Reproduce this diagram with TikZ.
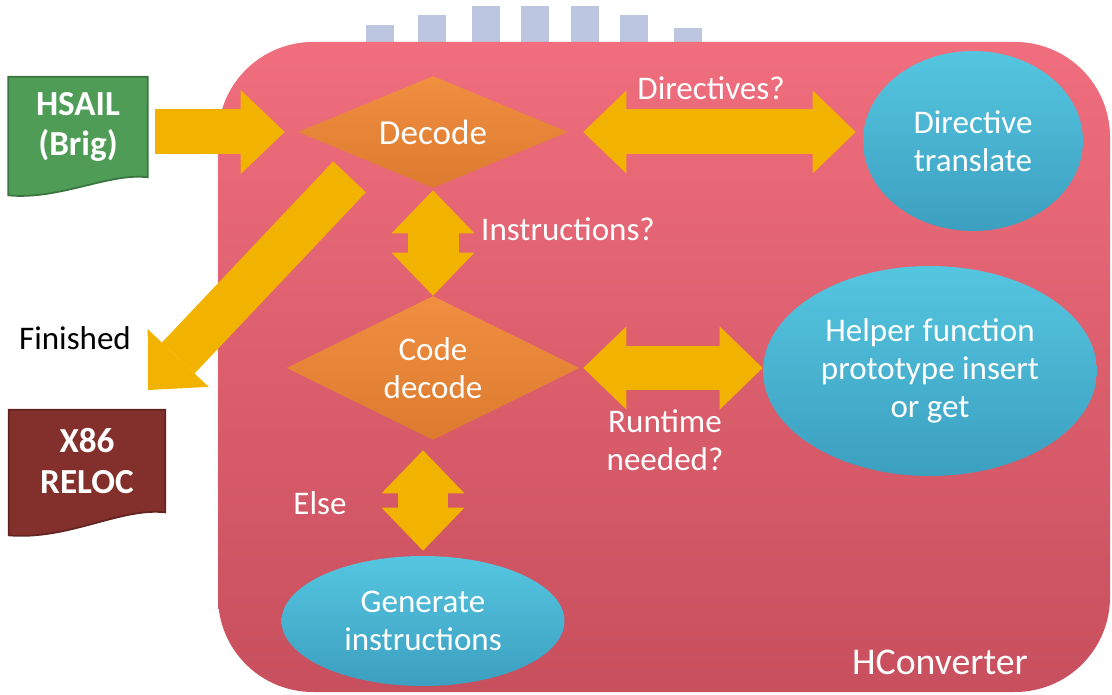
\documentclass[tikz,border=0pt]{standalone}
\usepackage{fontspec}
\setmainfont{Carlito}
\usetikzlibrary{shapes.geometric,arrows.meta}

\definecolor{boxtop}{HTML}{F06E7E}
\definecolor{boxbot}{HTML}{C84F5D}
\definecolor{orangetop}{HTML}{F08F40}
\definecolor{orangebot}{HTML}{DC7A2F}
\definecolor{tealtop}{HTML}{55C6E0}
\definecolor{tealbot}{HTML}{3C9FC0}
\definecolor{gold}{HTML}{F2B200}
\definecolor{leafgreen}{HTML}{4E9C56}
\definecolor{brick}{HTML}{83302C}
\definecolor{wmark}{HTML}{BCC6E0}

\pgfdeclarelayer{background}
\pgfsetlayers{background,main}

\tikzset{
  txt/.style={text=white, font=\fontsize{18.8}{21.5}\selectfont, align=center},
  decision/.style={txt, diamond, inner sep=0pt, top color=orangetop, bottom color=orangebot},
  task/.style={txt, ellipse, inner sep=0pt, top color=tealtop, bottom color=tealbot},
  doc/.style={txt, font=\fontsize{20}{23}\selectfont\bfseries, inner sep=0pt},
  fat/.style={draw=gold, line width=0.9cm},
  oneway/.style={fat, -{Triangle[length=0.88cm, width=1.68cm, line width=0pt]}},
  twoway/.style={fat, {Triangle[length=0.86cm, width=1.66cm, line width=0pt]}-{Triangle[length=0.86cm, width=1.66cm, line width=0pt]}},
}

\begin{document}
\begin{tikzpicture}[x=0.02cm, y=-0.02cm]
  \useasboundingbox (0,0) rectangle (1112,695);

  % input and output files
  \node[doc, minimum width=2.78cm, minimum height=2.0cm] (hsail) at (78,127) {HSAIL\\(Brig)};
  \node[doc, minimum width=3.12cm, minimum height=2.04cm] (reloc) at (87,461) {X86\\RELOC};
  \node[txt, text=black] (finished) at (75,338) {Finished};

  % converter steps
  \node[decision, font=\fontsize{20}{22}\selectfont, minimum width=5.4cm, minimum height=2.24cm, aspect=2.4] (decode) at (433,132) {Decode};
  \node[decision, minimum width=5.86cm, minimum height=2.88cm, aspect=2.03] (codedec) at (433,368) {Code\\decode};
  \node[task, minimum width=4.4cm, minimum height=3.6cm] (dirtr) at (973,141) {Directive\\translate};
  \node[task, minimum width=6.68cm, minimum height=4.2cm] (helper) at (930,371) {Helper function\\prototype insert\\or get};
  \node[task, minimum width=5.66cm, minimum height=2.6cm] (geninst) at (423,621) {Generate\\instructions};

  % labels
  \node[txt] (dirq) at (711,88) {Directives?};
  \node[txt] (instq) at (568,229) {Instructions?};
  \node[txt] (rtq) at (665,440) {Runtime\\needed?};
  \node[txt] (elseq) at (320,503) {Else};
  \node[txt, font=\fontsize{21.5}{24}\selectfont] (hconv) at (940,662) {HConverter};

  \begin{pgfonlayer}{background}
    % faint bars over the top edge
    \foreach \x/\t in {380/25, 432/15, 486/6, 535/6, 585/6, 634/15, 688/28}
      \fill[wmark] (\x-14,\t) rectangle (\x+14,60);
    % the converter box
    \shade[top color=boxtop, bottom color=boxbot, rounded corners=1.9cm] (218,42) rectangle (1110,692);
    % document shapes with wavy bottoms
    \filldraw[fill=leafgreen, draw=leafgreen!75!black, line width=1pt] (hsail.north west) -- (hsail.north east) -- (hsail.south east)
      .. controls +(-38,-5) and +(51,5) .. ([yshift=-0.36cm]hsail.south west) -- cycle;
    \filldraw[fill=brick, draw=brick!75!black, line width=1pt] (reloc.north west) -- (reloc.north east) -- (reloc.south east)
      .. controls +(-45,-5) and +(60,5) .. ([yshift=-0.46cm]reloc.south west) -- cycle;
  \end{pgfonlayer}

  % block arrows
  \coordinate (done) at (148,390);
  \draw[oneway, shorten <=0.14cm, shorten >=0.26cm] (hsail.east |- decode.west) -- (decode.west);
  \draw[oneway, shorten <=0.46cm] (decode.south west) -- (done);
  \draw[twoway, shorten <=0.3cm, shorten >=0.14cm] (decode.east) -- (decode.east -| dirtr.west);
  \draw[twoway, line width=1.02cm, shorten <=0.04cm] (decode.south) -- (codedec.north);
  \draw[twoway, shorten <=0.07cm] (codedec.east) -- (codedec.east -| helper.west);
  \draw[twoway, line width=1.0cm, shorten <=0.2cm, shorten >=0.1cm] (codedec.south -| geninst.north) -- (geninst.north);
\end{tikzpicture}
\end{document}
